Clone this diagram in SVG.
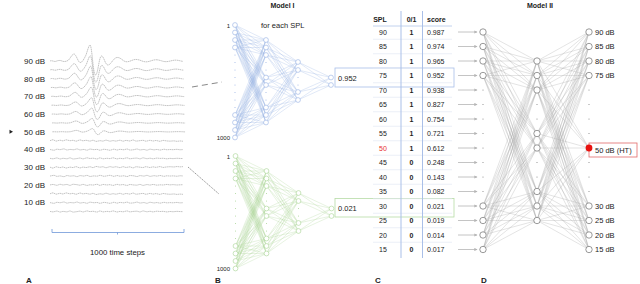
<svg xmlns="http://www.w3.org/2000/svg" xmlns:xlink="http://www.w3.org/1999/xlink" width="640" height="284" viewBox="0 0 640 284">
<style>
text{font-family:"Liberation Sans",Arial,sans-serif;fill:#222}
.lbl{font-size:8px;text-anchor:end}
.b{font-weight:bold}
.tr{fill:none;stroke:#9c9c9c;stroke-width:0.6;stroke-linejoin:round;stroke-dasharray:1.6 0.5}
.t7{font-size:7px}
.nl{fill:none;stroke-width:0.5;stroke-opacity:0.55}
.nd{fill:#fff;stroke-width:0.6}
.ml{fill:none;stroke:#a3a3a3;stroke-width:0.45;stroke-opacity:0.65}
.mn{fill:#fff;stroke:#6e6e6e;stroke-width:0.7}
.dt{fill:#888}
.sep{stroke:#e2e8f4;stroke-width:0.7}
.ar{stroke:#b5b5b5;stroke-width:0.8;fill:none}
</style>
<defs>
<marker id="ah" viewBox="0 0 6 6" refX="5" refY="3" markerWidth="4" markerHeight="4" orient="auto"><path d="M0 0L6 3L0 6z" fill="#b5b5b5"/></marker>
<path id="abr" vector-effect="non-scaling-stroke" d="M50 0C52 -1 54 1 56 0.3C58 -0.5 60 -1 62 0C64 1 66 0.5 68 -0.5C70 -2 72 -7 74 -7C76 -7 78 1 80 1.5C82 2 84 -2 86 -6C88 -12 89 -16 90 -16C92 -16 93 14 95.5 14C98 14 99 -5 101.5 -5C104 -5 105 4 108 4C111 4 113 -3 117 -3.5C121 -4 123 1 127 0.8C131 0.5 133 -2 137 -1.5C141 -1 143 1.2 147 0.8C151 0.3 153 -1.5 157 -1.2C161 -0.8 163 1 167 0.6C171 0.2 173 -1.2 177 -0.8C180 -0.4 182 0.5 183 0.3"/>
<path id="nz1" d="M50 0l3 -1 3 1.5 4 -1 3 0.8 3 -1.2 4 1 3 -0.5 3 1 4 -1.4 3 1 3 -0.6 4 0.9 3 -1 3 1.3 4 -0.8 3 0.5 3 -1.1 4 1.2 3 -0.7 3 0.6 4 -1 3 1.1 3 -0.9 4 0.7 3 -1.2 3 1.3 4 -0.5 3 -0.4 3 1 4 -1 3 0.8 3 -0.6 4 0.9 3 -1 4 0.6 3 0.2 4 -0.3 3 0.5 3 -0.4 3 0.3"/>
<path id="nz2" d="M50 0l4 0.8 3 -1.2 3 0.6 4 -0.9 3 1.3 3 -0.7 4 0.4 3 -1 3 1.2 4 -0.6 3 0.9 3 -1.3 4 0.7 3 -0.4 3 1 4 -1.1 3 0.5 3 0.6 4 -1.2 3 1 3 -0.8 4 0.5 3 -0.9 3 1.2 4 -0.4 3 -0.8 3 1.1 4 -0.6 3 0.9 3 -1.2 4 0.8 3 -0.5 3 0.7 4 -0.9 3 0.6 3 -0.3 3 0.2 4 -0.4 3 0.5 3 -0.2"/>
<path id="nz3" d="M50 0l3 0.5 4 -1 3 1.2 3 -0.8 4 0.6 3 -1.1 3 1.3 4 -0.5 3 -0.6 3 1 4 -1.2 3 0.8 3 -0.4 4 0.9 3 -1.3 3 1.1 4 -0.6 3 0.4 3 -0.9 4 1.2 3 -0.7 3 0.5 4 -1 3 1.1 3 -0.5 4 -0.3 3 0.9 3 -1.2 4 1 3 -0.6 3 0.7 4 -0.8 3 0.4 3 -0.2 4 0.6 3 -0.5 3 0.3 4 -0.4 3 0.2 3 0.1"/>
<g id="net">
<path class="nl" d="M235 25L266 40M235 25L266 47.5M235 25L266 55M235 25L266 77.5M235 25L266 85M235 25L266 107.5M235 25L266 115M235 25L266 122.5M235 32.5L266 40M235 32.5L266 47.5M235 32.5L266 55M235 32.5L266 77.5M235 32.5L266 85M235 32.5L266 107.5M235 32.5L266 115M235 32.5L266 122.5M235 40L266 40M235 40L266 47.5M235 40L266 55M235 40L266 77.5M235 40L266 85M235 40L266 107.5M235 40L266 115M235 40L266 122.5M235 47.5L266 40M235 47.5L266 47.5M235 47.5L266 55M235 47.5L266 77.5M235 47.5L266 85M235 47.5L266 107.5M235 47.5L266 115M235 47.5L266 122.5M235 115L266 40M235 115L266 47.5M235 115L266 55M235 115L266 77.5M235 115L266 85M235 115L266 107.5M235 115L266 115M235 115L266 122.5M235 122.5L266 40M235 122.5L266 47.5M235 122.5L266 55M235 122.5L266 77.5M235 122.5L266 85M235 122.5L266 107.5M235 122.5L266 115M235 122.5L266 122.5M235 130L266 40M235 130L266 47.5M235 130L266 55M235 130L266 77.5M235 130L266 85M235 130L266 107.5M235 130L266 115M235 130L266 122.5M235 137.5L266 40M235 137.5L266 47.5M235 137.5L266 55M235 137.5L266 77.5M235 137.5L266 85M235 137.5L266 107.5M235 137.5L266 115M235 137.5L266 122.5"/>
<path class="nl" d="M266 40L298 62M266 40L298 70M266 40L298 92M266 40L298 100M266 47.5L298 62M266 47.5L298 70M266 47.5L298 92M266 47.5L298 100M266 55L298 62M266 55L298 70M266 55L298 92M266 55L298 100M266 77.5L298 62M266 77.5L298 70M266 77.5L298 92M266 77.5L298 100M266 85L298 62M266 85L298 70M266 85L298 92M266 85L298 100M266 107.5L298 62M266 107.5L298 70M266 107.5L298 92M266 107.5L298 100M266 115L298 62M266 115L298 70M266 115L298 92M266 115L298 100M266 122.5L298 62M266 122.5L298 70M266 122.5L298 92M266 122.5L298 100M298 62L331 77.5M298 62L331 85M298 70L331 77.5M298 70L331 85M298 92L331 77.5M298 92L331 85M298 100L331 77.5M298 100L331 85"/>
<g class="nd">
<circle cx="235" cy="25" r="2.4"/><circle cx="235" cy="32.5" r="2.4"/><circle cx="235" cy="40" r="2.4"/><circle cx="235" cy="47.5" r="2.4"/>
<circle cx="235" cy="115" r="2.4"/><circle cx="235" cy="122.5" r="2.4"/><circle cx="235" cy="130" r="2.4"/><circle cx="235" cy="137.5" r="2.4"/>
<circle cx="266" cy="40" r="2.4"/><circle cx="266" cy="47.5" r="2.4"/><circle cx="266" cy="55" r="2.4"/><circle cx="266" cy="77.5" r="2.4"/>
<circle cx="266" cy="85" r="2.4"/><circle cx="266" cy="107.5" r="2.4"/><circle cx="266" cy="115" r="2.4"/><circle cx="266" cy="122.5" r="2.4"/>
<circle cx="298" cy="62" r="2.4"/><circle cx="298" cy="70" r="2.4"/><circle cx="298" cy="92" r="2.4"/><circle cx="298" cy="100" r="2.4"/>
<circle cx="331" cy="77.5" r="2.4"/><circle cx="331" cy="85" r="2.4"/>
</g>
<g fill="currentColor" stroke="none">
<circle cx="235" cy="55" r="0.5"/><circle cx="235" cy="62.5" r="0.5"/><circle cx="235" cy="70" r="0.5"/><circle cx="235" cy="77.5" r="0.5"/>
<circle cx="235" cy="85" r="0.5"/><circle cx="235" cy="92.5" r="0.5"/><circle cx="235" cy="100" r="0.5"/><circle cx="235" cy="107.5" r="0.5"/>
<circle cx="266" cy="62.5" r="0.5"/><circle cx="266" cy="70" r="0.5"/><circle cx="266" cy="92.5" r="0.5"/><circle cx="266" cy="100" r="0.5"/>
<circle cx="298" cy="77.5" r="0.5"/><circle cx="298" cy="85" r="0.5"/>
</g>
</g>
</defs>

<rect width="640" height="284" fill="#fff"/>

<g id="panelA">
<g class="tr">
<use href="#abr" transform="translate(0,61)"/>
<use href="#abr" transform="translate(0.3,69.85) scale(1,0.88)"/>
<use href="#abr" transform="translate(0.6,78.7) scale(1,0.78)"/>
<use href="#abr" transform="translate(0.9,87.55) scale(1,0.68)"/>
<use href="#abr" transform="translate(1.2,96.4) scale(1,0.58)"/>
<use href="#abr" transform="translate(1.5,105.25) scale(1,0.47)"/>
<use href="#abr" transform="translate(1.8,114.1) scale(1,0.38)"/>
<use href="#abr" transform="translate(2.1,122.95) scale(1,0.28)"/>
<use href="#abr" transform="translate(2.4,131.8) scale(1,0.2)"/>
<use href="#nz1" transform="translate(0,140.65)"/>
<use href="#nz2" transform="translate(0,149.5)"/>
<use href="#nz3" transform="translate(0,158.35)"/>
<use href="#nz1" transform="translate(0,167.2) scale(1,-1)"/>
<use href="#nz2" transform="translate(0,176.05) scale(1,-1)"/>
<use href="#nz3" transform="translate(0,184.9) scale(1,-1)"/>
<use href="#nz1" transform="translate(0,193.75)"/>
<use href="#nz2" transform="translate(0,202.6)"/>
<use href="#nz3" transform="translate(0,211.45)"/>
</g>
<text class="lbl" x="45" y="63.8">90 dB</text>
<text class="lbl" x="45" y="81.5">80 dB</text>
<text class="lbl" x="45" y="99.2">70 dB</text>
<text class="lbl" x="45" y="116.9">60 dB</text>
<text class="lbl" x="45" y="134.6">50 dB</text>
<text class="lbl" x="45" y="152.3">40 dB</text>
<text class="lbl" x="45" y="170">30 dB</text>
<text class="lbl" x="45" y="187.7">20 dB</text>
<text class="lbl" x="45" y="205.4">10 dB</text>
<polygon points="9.5,129.8 13,131.8 9.5,133.8" fill="#222"/>
<path d="M52 229V232.5H184V229M117.5 232.5V234.5" fill="none" stroke="#6f97d8" stroke-width="0.8"/>
<text x="117.5" y="255" font-size="7.8" text-anchor="middle">1000 time steps</text>
<text class="b" x="26" y="283" font-size="8">A</text>
</g>

<g id="modelI-blue">
<text class="b t7" x="282.5" y="8" text-anchor="middle">Model I</text>
<text x="261" y="28" font-size="7.5">for each SPL</text>
<use href="#net" stroke="#93aee2" color="#93aee2"/>
<text x="230" y="27.5" font-size="6" text-anchor="end">1</text>
<text x="230" y="140" font-size="6" text-anchor="end">1000</text>
<rect x="335" y="68" width="119" height="19" fill="none" stroke="#a9bfe8" stroke-width="0.8"/>
<text x="338" y="80.5" font-size="7.5">0.952</text>
</g>

<g id="modelI-green">
<use href="#net" transform="translate(0.5,131)" stroke="#a6d492" color="#a6d492"/>
<text x="230" y="158.5" font-size="6" text-anchor="end">1</text>
<text x="230" y="271" font-size="6" text-anchor="end">1000</text>
<rect x="335" y="198.5" width="119" height="18.5" fill="none" stroke="#b6dba6" stroke-width="0.8"/>
<text x="338" y="210.5" font-size="7.5">0.021</text>
<text class="b" x="215" y="283" font-size="8">B</text>
</g>

<g id="table">
<g class="sep">
<path d="M373 39.25H452M373 53.75H452M373 68.25H452M373 82.75H452M373 97.25H452M373 111.75H452M373 126.25H452M373 140.75H452M373 155.25H452M373 169.75H452M373 184.25H452M373 198.75H452M373 213.25H452M373 227.75H452M373 242.25H452"/>
</g>
<path d="M373 26H452" stroke="#b3c6ea" stroke-width="0.8"/>
<path d="M401 11V258M422.5 11V258" stroke="#a9bfe8" stroke-width="1"/>
<g class="t7">
<text class="b" x="380" y="21.5" text-anchor="middle">SPL</text>
<text class="b" x="411.5" y="21.5" text-anchor="middle">0/1</text>
<text class="b" x="427" y="21.5">score</text>
</g>
<g class="t7">
<text x="379" y="34.5">90</text><text x="379" y="49">85</text><text x="379" y="63.5">80</text><text x="379" y="78">75</text>
<text x="379" y="92.5">70</text><text x="379" y="107">65</text><text x="379" y="121.5">60</text><text x="379" y="136">55</text>
<text x="379" y="150.5" style="fill:#e8302f">50</text><text x="379" y="165">45</text><text x="379" y="179.5">40</text><text x="379" y="194">35</text>
<text x="379" y="208.5">30</text><text x="379" y="223">25</text><text x="379" y="237.5">20</text><text x="379" y="252">15</text>
</g>
<g class="t7 b" text-anchor="middle">
<text x="411.5" y="34.5">1</text><text x="411.5" y="49">1</text><text x="411.5" y="63.5">1</text><text x="411.5" y="78">1</text>
<text x="411.5" y="92.5">1</text><text x="411.5" y="107">1</text><text x="411.5" y="121.5">1</text><text x="411.5" y="136">1</text>
<text x="411.5" y="150.5">1</text><text x="411.5" y="165">0</text><text x="411.5" y="179.5">0</text><text x="411.5" y="194">0</text>
<text x="411.5" y="208.5">0</text><text x="411.5" y="223">0</text><text x="411.5" y="237.5">0</text><text x="411.5" y="252">0</text>
</g>
<g class="t7">
<text x="427" y="34.5">0.987</text><text x="427" y="49">0.974</text><text x="427" y="63.5">0.965</text><text x="427" y="78">0.952</text>
<text x="427" y="92.5">0.938</text><text x="427" y="107">0.827</text><text x="427" y="121.5">0.754</text><text x="427" y="136">0.721</text>
<text x="427" y="150.5">0.612</text><text x="427" y="165">0.248</text><text x="427" y="179.5">0.143</text><text x="427" y="194">0.082</text>
<text x="427" y="208.5">0.021</text><text x="427" y="223">0.019</text><text x="427" y="237.5">0.014</text><text x="427" y="252">0.017</text>
</g>
<text class="b" x="375" y="283" font-size="8">C</text>
</g>

<g id="connectors">
<path d="M192 87L222 82" fill="none" stroke="#555" stroke-width="0.7" stroke-dasharray="6 4"/>
<path d="M188 167L219 194" fill="none" stroke="#555" stroke-width="0.6" stroke-dasharray="1.5 0.8"/>
<g class="ar" marker-end="url(#ah)">
<path d="M458 32H477"/><path d="M458 46.5H477"/><path d="M458 61H477"/><path d="M458 75.5H477"/>
<path d="M458 90H477"/><path d="M458 104.5H477"/><path d="M458 119H477"/><path d="M458 133.5H477"/>
<path d="M458 148H477"/><path d="M458 162.5H477"/><path d="M458 177H477"/><path d="M458 191.5H477"/>
<path d="M458 206H477"/><path d="M458 220.5H477"/><path d="M458 235H477"/><path d="M458 249.5H477"/>
</g>
</g>

<g id="modelII">
<text class="b t7" x="540" y="8" text-anchor="middle">Model II</text>
<path class="ml" d="M483 32L537 61M483 32L537 75.5M483 32L537 90M483 32L537 133.5M483 32L537 148M483 32L537 191.5M483 32L537 206M483 32L537 220.5M483 46.5L537 61M483 46.5L537 75.5M483 46.5L537 90M483 46.5L537 133.5M483 46.5L537 148M483 46.5L537 191.5M483 46.5L537 206M483 46.5L537 220.5M483 61L537 61M483 61L537 75.5M483 61L537 90M483 61L537 133.5M483 61L537 148M483 61L537 191.5M483 61L537 206M483 61L537 220.5M483 75.5L537 61M483 75.5L537 75.5M483 75.5L537 90M483 75.5L537 133.5M483 75.5L537 148M483 75.5L537 191.5M483 75.5L537 206M483 75.5L537 220.5M483 206L537 61M483 206L537 75.5M483 206L537 90M483 206L537 133.5M483 206L537 148M483 206L537 191.5M483 206L537 206M483 206L537 220.5M483 220.5L537 61M483 220.5L537 75.5M483 220.5L537 90M483 220.5L537 133.5M483 220.5L537 148M483 220.5L537 191.5M483 220.5L537 206M483 220.5L537 220.5M483 235L537 61M483 235L537 75.5M483 235L537 90M483 235L537 133.5M483 235L537 148M483 235L537 191.5M483 235L537 206M483 235L537 220.5M483 249.5L537 61M483 249.5L537 75.5M483 249.5L537 90M483 249.5L537 133.5M483 249.5L537 148M483 249.5L537 191.5M483 249.5L537 206M483 249.5L537 220.5"/>
<path class="ml" d="M537 61L589 32M537 61L589 46.5M537 61L589 61M537 61L589 75.5M537 61L589 148M537 61L589 206M537 61L589 220.5M537 61L589 235M537 61L589 249.5M537 75.5L589 32M537 75.5L589 46.5M537 75.5L589 61M537 75.5L589 75.5M537 75.5L589 148M537 75.5L589 206M537 75.5L589 220.5M537 75.5L589 235M537 75.5L589 249.5M537 90L589 32M537 90L589 46.5M537 90L589 61M537 90L589 75.5M537 90L589 148M537 90L589 206M537 90L589 220.5M537 90L589 235M537 90L589 249.5M537 133.5L589 32M537 133.5L589 46.5M537 133.5L589 61M537 133.5L589 75.5M537 133.5L589 148M537 133.5L589 206M537 133.5L589 220.5M537 133.5L589 235M537 133.5L589 249.5M537 148L589 32M537 148L589 46.5M537 148L589 61M537 148L589 75.5M537 148L589 148M537 148L589 206M537 148L589 220.5M537 148L589 235M537 148L589 249.5M537 191.5L589 32M537 191.5L589 46.5M537 191.5L589 61M537 191.5L589 75.5M537 191.5L589 148M537 191.5L589 206M537 191.5L589 220.5M537 191.5L589 235M537 191.5L589 249.5M537 206L589 32M537 206L589 46.5M537 206L589 61M537 206L589 75.5M537 206L589 148M537 206L589 206M537 206L589 220.5M537 206L589 235M537 206L589 249.5M537 220.5L589 32M537 220.5L589 46.5M537 220.5L589 61M537 220.5L589 75.5M537 220.5L589 148M537 220.5L589 206M537 220.5L589 220.5M537 220.5L589 235M537 220.5L589 249.5"/>
<g class="mn">
<circle cx="483" cy="32" r="3.2"/><circle cx="483" cy="46.5" r="3.2"/><circle cx="483" cy="61" r="3.2"/><circle cx="483" cy="75.5" r="3.2"/>
<circle cx="483" cy="206" r="3.2"/><circle cx="483" cy="220.5" r="3.2"/><circle cx="483" cy="235" r="3.2"/><circle cx="483" cy="249.5" r="3.2"/>
<circle cx="537" cy="61" r="3.2"/><circle cx="537" cy="75.5" r="3.2"/><circle cx="537" cy="90" r="3.2"/><circle cx="537" cy="133.5" r="3.2"/>
<circle cx="537" cy="148" r="3.2"/><circle cx="537" cy="191.5" r="3.2"/><circle cx="537" cy="206" r="3.2"/><circle cx="537" cy="220.5" r="3.2"/>
<circle cx="589" cy="32" r="3.2"/><circle cx="589" cy="46.5" r="3.2"/><circle cx="589" cy="61" r="3.2"/><circle cx="589" cy="75.5" r="3.2"/>
<circle cx="589" cy="206" r="3.2"/><circle cx="589" cy="220.5" r="3.2"/><circle cx="589" cy="235" r="3.2"/><circle cx="589" cy="249.5" r="3.2"/>
</g>
<g class="dt">
<circle cx="483" cy="90" r="0.6"/><circle cx="483" cy="104.5" r="0.6"/><circle cx="483" cy="119" r="0.6"/><circle cx="483" cy="133.5" r="0.6"/>
<circle cx="483" cy="148" r="0.6"/><circle cx="483" cy="162.5" r="0.6"/><circle cx="483" cy="177" r="0.6"/><circle cx="483" cy="191.5" r="0.6"/>
<circle cx="537" cy="104.5" r="0.6"/><circle cx="537" cy="119" r="0.6"/><circle cx="537" cy="162.5" r="0.6"/><circle cx="537" cy="177" r="0.6"/>
<circle cx="589" cy="90" r="0.6"/><circle cx="589" cy="104.5" r="0.6"/><circle cx="589" cy="119" r="0.6"/><circle cx="589" cy="133.5" r="0.6"/>
<circle cx="589" cy="162.5" r="0.6"/><circle cx="589" cy="177" r="0.6"/><circle cx="589" cy="191.5" r="0.6"/>
</g>
<g font-size="7.5">
<text x="595" y="34.7">90 dB</text><text x="595" y="49.2">85 dB</text><text x="595" y="63.7">80 dB</text><text x="595" y="78.2">75 dB</text>
<text x="595" y="208.7">30 dB</text><text x="595" y="223.2">25 dB</text><text x="595" y="237.7">20 dB</text><text x="595" y="252.2">15 dB</text>
</g>
<g id="ht">
<rect x="589" y="143" width="48" height="14" fill="#fff" stroke="#e26a6a" stroke-width="0.8"/>
<circle cx="589" cy="148" r="3.4" fill="#e8120f"/>
<text x="595" y="152.7" font-size="7.5">50 dB (HT)</text>
</g>
<text class="b" x="481" y="283" font-size="8">D</text>
</g>
</svg>
